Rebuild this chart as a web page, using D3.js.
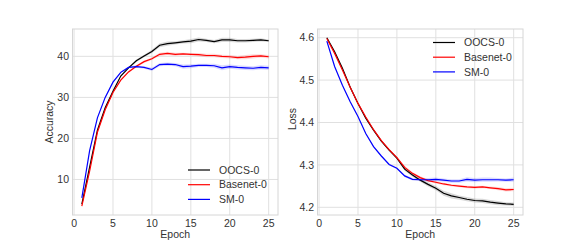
<!DOCTYPE html>
<html>
<head>
<meta charset="utf-8">
<script src="https://cdn.jsdelivr.net/npm/d3@7"></script>
<style>
  body { margin: 0; background: #fff; }
  text { font-family: "Liberation Sans", Arial, sans-serif; }
</style>
</head>
<body>
<div id="chart"></div>
<script>
var epochs = d3.range(1, 26);

// accuracy (left panel)
var accOOCS = [4, 13, 22, 27.5, 31.5, 35.2, 37.2, 38.9, 40.1, 41.2, 42.7, 43.1, 43.3, 43.5, 43.7, 44.1, 43.9, 43.6, 44.0, 44.0, 43.8, 43.8, 43.9, 44.0, 43.8];
var accBase = [3.5, 12, 21.5, 27, 31.2, 34.2, 36.2, 37.6, 38.7, 39.4, 40.5, 40.7, 40.5, 40.6, 40.5, 40.4, 40.2, 40.2, 40.0, 39.9, 39.7, 39.8, 40.0, 40.1, 39.9];
var accSM   = [5.5, 17, 25, 30, 33.7, 36.1, 37.3, 37.5, 37.3, 36.8, 38.0, 38.1, 38.0, 37.5, 37.6, 37.8, 37.8, 37.7, 37.2, 37.5, 37.3, 37.2, 37.1, 37.3, 37.2];
var accOOCSsd = [0.1, 0.2, 0.2, 0.2, 0.2, 0.2, 0.2, 0.3, 0.3, 0.4, 0.5, 0.5, 0.4, 0.4, 0.5, 0.5, 0.4, 0.4, 0.5, 0.5, 0.4, 0.4, 0.4, 0.4, 0.3];
var accBasesd = [0.1, 0.2, 0.2, 0.2, 0.2, 0.2, 0.2, 0.3, 0.3, 0.3, 0.4, 0.4, 0.4, 0.3, 0.3, 0.4, 0.4, 0.4, 0.4, 0.4, 0.4, 0.5, 0.5, 0.4, 0.4];
var accSMsd   = [0.1, 0.2, 0.2, 0.2, 0.2, 0.2, 0.2, 0.3, 0.3, 0.4, 0.4, 0.4, 0.4, 0.5, 0.5, 0.4, 0.4, 0.5, 0.6, 0.5, 0.5, 0.5, 0.5, 0.5, 0.5];

// loss (right panel)
var lossOOCS = [4.600, 4.567, 4.528, 4.483, 4.445, 4.410, 4.382, 4.356, 4.335, 4.316, 4.290, 4.276, 4.264, 4.254, 4.245, 4.233, 4.227, 4.223, 4.219, 4.216, 4.215, 4.212, 4.210, 4.208, 4.207];
var lossBase = [4.598, 4.563, 4.524, 4.483, 4.445, 4.413, 4.383, 4.357, 4.336, 4.317, 4.294, 4.280, 4.270, 4.263, 4.259, 4.255, 4.252, 4.250, 4.248, 4.247, 4.248, 4.246, 4.244, 4.241, 4.242];
var lossSM   = [4.592, 4.532, 4.488, 4.449, 4.414, 4.374, 4.343, 4.321, 4.301, 4.292, 4.274, 4.266, 4.265, 4.265, 4.266, 4.264, 4.262, 4.262, 4.266, 4.264, 4.265, 4.265, 4.265, 4.264, 4.265];
var lossOOCSsd = [0.001, 0.002, 0.002, 0.002, 0.002, 0.002, 0.002, 0.002, 0.002, 0.003, 0.004, 0.004, 0.004, 0.005, 0.005, 0.006, 0.006, 0.005, 0.005, 0.005, 0.005, 0.005, 0.005, 0.004, 0.004];
var lossBasesd = [0.001, 0.001, 0.001, 0.001, 0.001, 0.002, 0.002, 0.002, 0.002, 0.003, 0.004, 0.003, 0.003, 0.003, 0.003, 0.003, 0.003, 0.003, 0.003, 0.003, 0.003, 0.003, 0.004, 0.004, 0.004];
var lossSMsd   = [0.001, 0.001, 0.001, 0.001, 0.001, 0.002, 0.002, 0.002, 0.002, 0.002, 0.003, 0.003, 0.003, 0.004, 0.004, 0.004, 0.004, 0.004, 0.005, 0.005, 0.005, 0.005, 0.004, 0.004, 0.005];

var names = ["OOCS-0", "Basenet-0", "SM-0"];
var colors = ["#000000", "#ff0000", "#0000ff"];
var xTicks = [0, 5, 10, 15, 20, 25];
var accTicks = [10, 20, 30, 40];
var lossTicks = [4.2, 4.3, 4.4, 4.5, 4.6];

var W = 581, H = 242;
var svg = d3.select("#chart").append("svg")
    .attr("width", W)
    .attr("height", H);

function panel(opt) {
    var x = d3.scaleLinear().domain([-0.2, 26.2]).range([opt.left, opt.right]);
    var y = d3.scaleLinear().domain(opt.ydom).range([opt.bottom, opt.top]);
    var g = svg.append("g");

    // grid
    g.selectAll(".gx").data(xTicks).enter().append("line")
        .attr("x1", d => x(d)).attr("x2", d => x(d))
        .attr("y1", opt.top).attr("y2", opt.bottom)
        .attr("stroke", "#e0e0e0").attr("stroke-width", 1);
    g.selectAll(".gy").data(opt.yticks).enter().append("line")
        .attr("x1", opt.left).attr("x2", opt.right)
        .attr("y1", d => y(d)).attr("y2", d => y(d))
        .attr("stroke", "#e0e0e0").attr("stroke-width", 1);

    // bands + lines
    opt.series.forEach(function(s, i) {
        var area = d3.area()
            .x((d, j) => x(epochs[j]))
            .y0((d, j) => y(d - s.sd[j]))
            .y1((d, j) => y(d + s.sd[j]));
        g.append("path").datum(s.v)
            .attr("d", area)
            .attr("fill", colors[i]).attr("fill-opacity", 0.15);
    });
    opt.series.forEach(function(s, i) {
        var line = d3.line()
            .x((d, j) => x(epochs[j]))
            .y(d => y(d));
        g.append("path").datum(s.v)
            .attr("d", line)
            .attr("fill", "none")
            .attr("stroke", colors[i]).attr("stroke-width", 1.2);
    });

    // frame
    g.append("rect")
        .attr("x", opt.left).attr("y", opt.top)
        .attr("width", opt.right - opt.left).attr("height", opt.bottom - opt.top)
        .attr("fill", "none").attr("stroke", "#d6d6d6").attr("stroke-width", 1);

    // tick labels
    g.selectAll(".tx").data(xTicks).enter().append("text")
        .attr("x", d => x(d)).attr("y", opt.bottom + 11.5)
        .attr("text-anchor", "middle").attr("font-size", 10.5).attr("fill", "#333")
        .text(d => d);
    g.selectAll(".ty").data(opt.yticks).enter().append("text")
        .attr("x", opt.left - 3.5).attr("y", d => y(d) + 3.7)
        .attr("text-anchor", "end").attr("font-size", 10.5).attr("fill", "#333")
        .text(opt.fmt);

    // axis labels
    g.append("text")
        .attr("x", (opt.left + opt.right) / 2).attr("y", opt.bottom + 23)
        .attr("text-anchor", "middle").attr("font-size", 10.5).attr("fill", "#333")
        .text("Epoch");
    g.append("text")
        .attr("transform", "translate(" + opt.ylabX + "," + opt.ylabY + ") rotate(-90)")
        .attr("text-anchor", "middle").attr("font-size", 10.5).attr("fill", "#333")
        .text(opt.ylabel);

    // legend
    names.forEach(function(n, i) {
        var ly = opt.legY + i * 14.7;
        g.append("line")
            .attr("x1", opt.legX).attr("x2", opt.legX + 22)
            .attr("y1", ly).attr("y2", ly)
            .attr("stroke", colors[i]).attr("stroke-width", 1.2);
        g.append("text")
            .attr("x", opt.legX + 31).attr("y", ly + 3.7)
            .attr("font-size", 10.5).attr("fill", "#333")
            .text(n);
    });
}

panel({
    left: 72.5, right: 278, top: 29, bottom: 215,
    ydom: [1.34, 46.66], yticks: accTicks, fmt: d => d,
    ylabel: "Accuracy", ylabX: 53, ylabY: 122,
    series: [{v: accOOCS, sd: accOOCSsd}, {v: accBase, sd: accBasesd}, {v: accSM, sd: accSMsd}],
    legX: 188, legY: 170
});

panel({
    left: 317.5, right: 523, top: 29, bottom: 215,
    ydom: [4.1818, 4.6205], yticks: lossTicks, fmt: d => d.toFixed(1),
    ylabel: "Loss", ylabX: 295.5, ylabY: 119,
    series: [{v: lossOOCS, sd: lossOOCSsd}, {v: lossBase, sd: lossBasesd}, {v: lossSM, sd: lossSMsd}],
    legX: 433, legY: 42.5
});
</script>
</body>
</html>
